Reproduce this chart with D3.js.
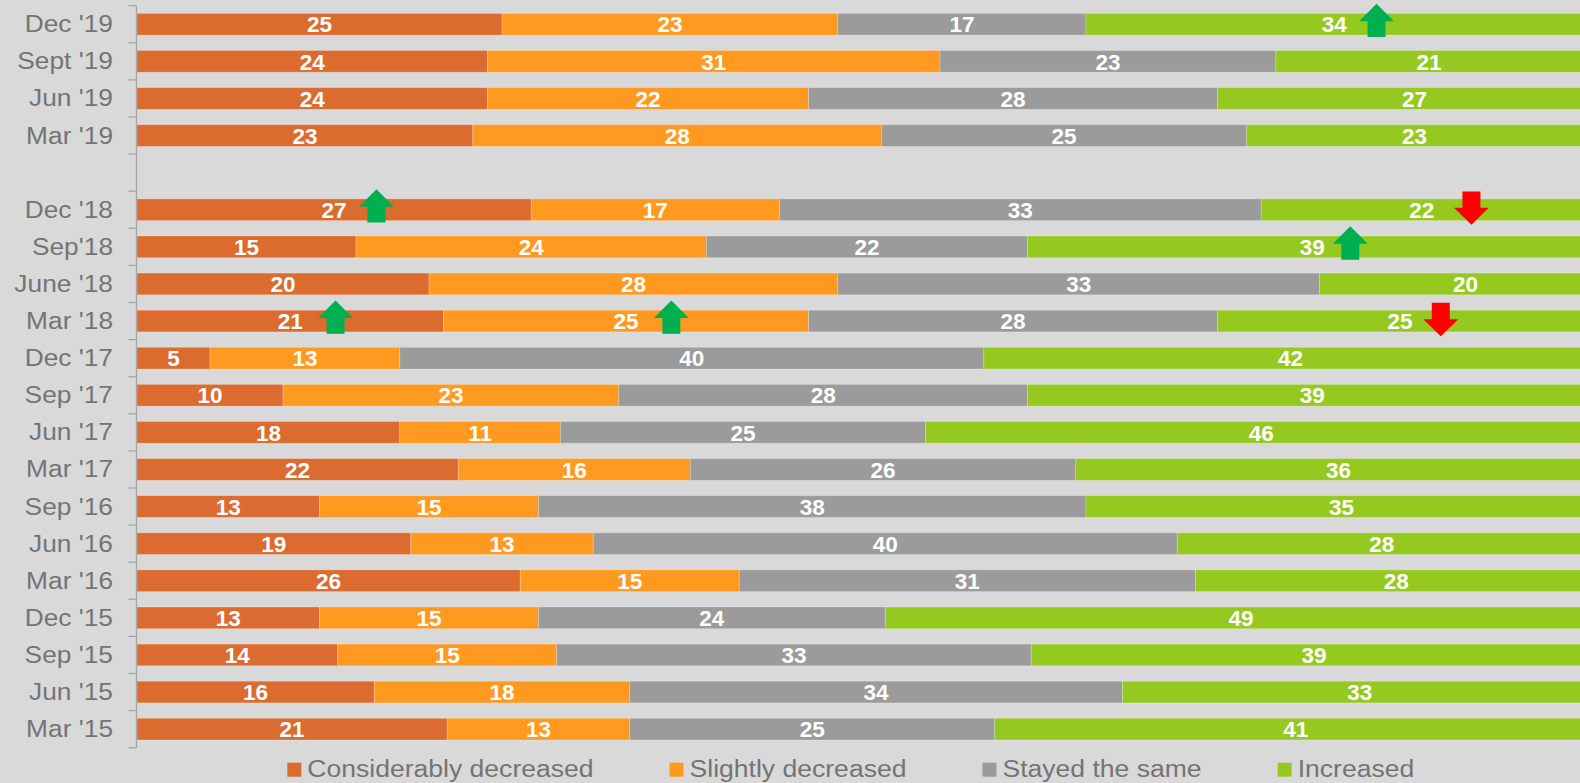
<!DOCTYPE html>
<html>
<head>
<meta charset="utf-8">
<script src="https://cdn.jsdelivr.net/npm/d3@7"></script>
<style>
  html, body { margin: 0; padding: 0; background: #d9d9d9; }
  svg { display: block; font-family: Arial, "Liberation Sans", sans-serif; }
</style>
</head>
<body>
<svg id="chart" width="1580" height="783"></svg>
<script>
// ---- data ----
const categories = ["Dec '19","Sept '19","Jun '19","Mar '19"," ","Dec '18","Sep'18","June '18","Mar '18","Dec '17","Sep '17","Jun '17","Mar '17","Sep '16","Jun '16","Mar '16","Dec '15","Sep '15","Jun '15","Mar '15"];
const seriesNames = ["Considerably decreased","Slightly decreased","Stayed the same","Increased"];
const considerablyDecreased = [25,24,24,23,null,27,15,20,21,5,10,18,22,12.5,18.75,26.25,12.5,13.75,16.25,21.25];
const slightlyDecreased     = [23,31,22,28,null,17,24,28,25,13,23,11,15.9,15,12.5,15,15,15,17.5,12.5];
const stayedTheSame         = [17,23,28,25,null,33,22,33,28,40,28,25,26.4,37.5,40,31.25,23.75,32.5,33.75,25];
const increased             = [34,21,27,23,null,22,39,20,25,42,39,46,36,35,28,27.5,48.75,38.75,32.5,41.25];
const seriesColors = ["#dc6b2f","#ff991f","#9b9b9b","#96c91f"];
// change markers (category, position on value axis, direction)
const arrowCats = ["Dec '19","Dec '18","Dec '18","Sep'18","Mar '18","Mar '18","Mar '18"];
const arrowAt   = [84.9, 16.4, 91.4, 83.1, 13.6, 36.6, 89.3];
const arrowDir  = ["up","up","down","up","up","up","down"];

// ---- build ----
const series = [considerablyDecreased, slightlyDecreased, stayedTheSame, increased];
const rows = categories.map((c, i) => {
  const r = { cat: c };
  seriesNames.forEach((s, k) => r[s] = series[k][i]);
  return r;
});

const svg = d3.select("#chart");
const W = 1580, H = 783;
svg.append("rect").attr("width", W).attr("height", H).attr("fill", "#d9d9d9");

const x = d3.scaleLinear().domain([0, 100]).range([137, 1597]);
const y = d3.scaleBand().domain(categories).range([5.7, 747.7]).paddingInner(0.415).paddingOuter(0.2075);
const color = d3.scaleOrdinal().domain(seriesNames).range(seriesColors);

const stack = d3.stack().keys(seriesNames).value((d, k) => d[k] == null ? 0 : d[k]);
const stacked = stack(rows.filter(r => r[seriesNames[0]] != null));

const g = svg.append("g");
const layers = g.selectAll("g.layer").data(stacked).join("g")
  .attr("class", "layer").attr("fill", d => color(d.key));
layers.selectAll("rect").data(d => d).join("rect")
  .attr("x", d => x(d[0]))
  .attr("y", d => y(d.data.cat))
  .attr("width", d => x(d[1]) - x(d[0]))
  .attr("height", y.bandwidth())
  .attr("stroke", "rgba(255,255,255,0.28)")
  .attr("stroke-width", 0.8);

// value labels
const labelG = svg.append("g");
stacked.forEach(layer => {
  labelG.selectAll(null).data(layer).join("text")
    .attr("x", d => x((d[0] + d[1]) / 2))
    .attr("y", d => y(d.data.cat) + y.bandwidth() / 2 + 8.2)
    .attr("text-anchor", "middle")
    .attr("fill", "#ffffff")
    .attr("font-weight", "bold")
    .attr("font-size", "22.5px")
    .text(d => Math.round(d[1] - d[0]));
});

// axis
const SX = 1.12, LSX = 1.13;
const axis = d3.axisLeft(y).tickSize(0).tickPadding(23.5);
const axG = svg.append("g").attr("transform", "translate(136.5,0)").call(axis);
axG.select(".domain").remove();
axG.selectAll(".tick text")
  .attr("fill", "#747474")
  .attr("font-size", "23.5px")
  .attr("font-family", "Arial, 'Liberation Sans', sans-serif")
  .attr("x", -23.5 / SX)
  .attr("transform", `scale(${SX},1)`)
  .attr("dy", "0.34em");
const [r0, r1] = y.range();
const step = y.step();
const bounds = d3.range(categories.length + 1).map(i => r0 + i * step);
axG.append("line").attr("x1", 0).attr("x2", 0).attr("y1", r0).attr("y2", r1)
  .attr("stroke", "#a6a6a6").attr("stroke-width", 1.3);
axG.selectAll("line.tk").data(bounds).join("line").attr("class", "tk")
  .attr("x1", -8).attr("x2", 0).attr("y1", d => d).attr("y2", d => d)
  .attr("stroke", "#a6a6a6").attr("stroke-width", 1.3);

// arrows
const arrows = arrowCats.map((c, i) => ({ cat: c, at: arrowAt[i], dir: arrowDir[i] }));
function arrowPath(cx, top, dir) {
  const hw = 17.5, sw = 9, hh = 17.5, h = 33.3;
  if (dir === "up") {
    return `M${cx},${top} L${cx+hw},${top+hh} L${cx+sw},${top+hh} L${cx+sw},${top+h} L${cx-sw},${top+h} L${cx-sw},${top+hh} L${cx-hw},${top+hh} Z`;
  }
  const b = top + h, sh = h - 17;
  return `M${cx},${b} L${cx+hw},${top+sh} L${cx+sw},${top+sh} L${cx+sw},${top} L${cx-sw},${top} L${cx-sw},${top+sh} L${cx-hw},${top+sh} Z`;
}
svg.append("g").selectAll("path").data(arrows).join("path")
  .attr("d", d => {
    const c = y(d.cat) + y.bandwidth() / 2;
    return arrowPath(x(d.at), d.dir === "up" ? c - 20.5 : c - 18.2, d.dir);
  })
  .attr("fill", d => d.dir === "up" ? "#00b050" : "#ff0000");

// legend
const legend = svg.append("g");
let lx = 287.3;
seriesNames.forEach(name => {
  const item = legend.append("g");
  item.append("rect").attr("x", lx).attr("y", 762.7).attr("width", 14).attr("height", 14).attr("fill", color(name));
  const t = item.append("text")
    .attr("transform", `translate(${lx + 20},777) scale(${LSX},1)`)
    .attr("fill", "#747474").attr("font-size", "23.5px")
    .text(name);
  lx = lx + 20 + t.node().getComputedTextLength() * LSX + 76;
});
</script>
</body>
</html>
